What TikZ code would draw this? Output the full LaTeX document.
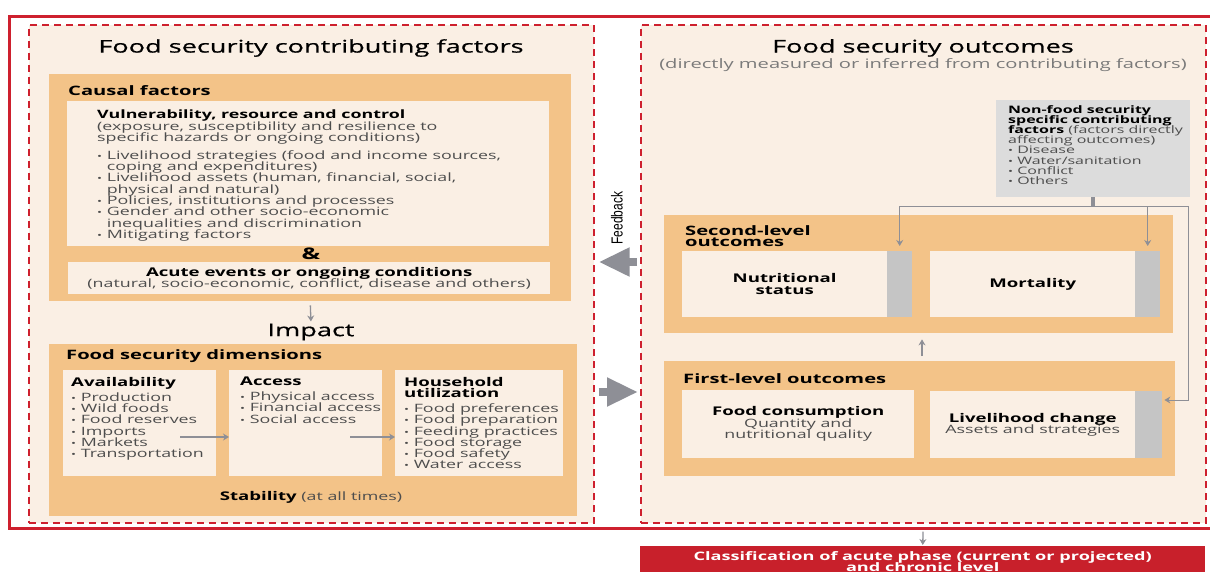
\documentclass[tikz,border=0pt]{standalone}
\usepackage{fontspec}
\setmainfont[FakeStretch=1.55]{Open Sans}
\newfontfamily\headfont[FakeStretch=1.55, FakeBold=0.6]{Open Sans}
\newfontfamily\narrowfont[FakeStretch=0.75]{Liberation Sans}
\usetikzlibrary{arrows.meta}

\definecolor{framered}{HTML}{CE202E}
\definecolor{zonebeige}{HTML}{FAEFE4}
\definecolor{panelorange}{HTML}{F3C388}
\definecolor{greybox}{HTML}{DCDCDC}
\definecolor{greybar}{HTML}{C5C5C5}
\definecolor{arrowgrey}{HTML}{8E8F96}
\definecolor{bodygrey}{HTML}{4D4D4D}
\definecolor{lightgrey}{HTML}{7A7A7A}
\definecolor{bannerred}{HTML}{C8202B}

\newcommand{\hd}[1]{\textcolor{black}{\bfseries #1}}
\newcommand{\bighd}[1]{{\fontsize{12}{12}\selectfont\hd{#1}}}
\newcommand{\bul}{{\fontsize{8.5}{8.5}\selectfont\textbullet}\ }
\newcommand{\bulgap}{\hphantom{\bul}}
\newcommand{\tightlines}{\lineskiplimit=-20pt\lineskip=0pt\relax}

\tikzset{frame/.style = {draw = framered,
                         line width = 3pt},
         zone/.style = {draw = framered,
                        fill = zonebeige,
                        line width = 1.6pt,
                        dash pattern = on 7pt off 5pt,
                        inner sep = 0pt,
                        anchor = north west},
         panel/.style = {fill = panelorange,
                         inner sep = 0pt,
                         anchor = north west},
         card/.style = {fill = zonebeige,
                        inner sep = 0pt,
                        anchor = north west},
         bar/.style = {fill = greybar,
                       inner sep = 0pt,
                       anchor = north west},
         nonfoodbox/.style = {fill = greybox,
                              inner sep = 0pt,
                              anchor = north west},
         heading/.style = {font = \headfont\fontsize{17.5}{18}\selectfont,
                           text = black,
                           inner sep = 0pt},
         subtitle/.style = {font = \fontsize{13}{14}\selectfont,
                            text = lightgrey,
                            inner sep = 0pt},
         panellabel/.style = {font = \bfseries\fontsize{13}{11.5}\selectfont\tightlines,
                              text = black,
                              inner sep = 0pt,
                              anchor = west},
         body/.style = {font = \fontsize{11.5}{11.3}\selectfont\tightlines,
                        text = bodygrey,
                        align = left,
                        inner sep = 0pt,
                        anchor = north west},
         small/.style = {font = \fontsize{10.3}{10.2}\selectfont\tightlines,
                         text = bodygrey,
                         align = left,
                         inner sep = 0pt,
                         anchor = north west},
         centred/.style = {font = \fontsize{11.5}{11.6}\selectfont\tightlines,
                           text = bodygrey,
                           align = center,
                           inner sep = 0pt},
         boxhead/.style = {font = \bfseries\fontsize{12}{12}\selectfont\tightlines,
                           text = black,
                           align = center,
                           inner sep = 0pt},
         banner/.style = {fill = bannerred,
                          text = white,
                          font = \bfseries\fontsize{11.7}{11}\selectfont\tightlines,
                          align = center,
                          inner sep = 0pt,
                          anchor = north west},
         flow/.style = {draw = arrowgrey,
                        line width = 1.3pt,
                        -{Stealth[length=6pt, width=7pt]}},
         feed/.style = {draw = arrowgrey,
                        line width = 1pt,
                        shorten >= 5pt,
                        -{Stealth[length=6pt, width=7pt]}},
         bigarrow/.style = {draw = arrowgrey,
                            line width = 8pt,
                            -{Triangle[length=31pt, width=27pt]}}}

\begin{document}
\begin{tikzpicture}[x=1pt, y=-1pt]
    \useasboundingbox (0,0) rectangle (1210,572);

    % frame and the two zones
    \draw[frame] (9,17) rectangle (1216,528);
    \node[zone, minimum width=565pt, minimum height=498pt] (factors) at (28,24) {};
    \node[zone, minimum width=565pt, minimum height=498pt] (outcomes) at (640,24) {};

    % contributing factors
    \node[heading] (factorstitle) at (311,48) {Food security contributing factors};
    \node[panel, minimum width=522pt, minimum height=227pt] (causal) at (49,74) {};
    \node[panellabel] (causallabel) at (68,91) {Causal factors};
    \node[card, minimum width=482pt, minimum height=145pt] (vuln) at (67,101) {};
    \node[body] (vulntext) at (97,110) {\hd{Vulnerability, resource and control}\\
        (exposure, susceptibility and resilience to\\
        specific hazards or ongoing conditions)\\[6.5pt]
        \bul Livelihood strategies (food and income sources,\\
        \bulgap coping and expenditures)\\
        \bul Livelihood assets (human, financial, social,\\
        \bulgap physical and natural)\\
        \bul Policies, institutions and processes\\
        \bul Gender and other socio-economic\\
        \bulgap inequalities and discrimination\\
        \bul Mitigating factors};
    \node[font=\bfseries\fontsize{16}{16}\selectfont, inner sep=0pt] (amp) at (311,254) {\&};
    \node[card, minimum width=482pt, minimum height=32pt] (acute) at (68,262) {};
    \node[centred] (acutetext) at (acute.center) {\bighd{Acute events or ongoing conditions}\\
        (natural, socio-economic, conflict, disease and others)};

    \node[heading] (impact) at (311,332) {Impact};
    \draw[flow, shorten <=4pt, shorten >=2pt] (causal.south) -- (impact.north);

    \node[panel, minimum width=528pt, minimum height=172pt] (dims) at (49,344) {};
    \node[panellabel] (dimslabel) at (66,356) {Food security dimensions};
    \node[card, minimum width=153pt, minimum height=106pt] (avail) at (63,370) {};
    \node[card, minimum width=153pt, minimum height=106pt] (access) at (229,370) {};
    \node[card, minimum width=168pt, minimum height=106pt] (util) at (395,370) {};
    \node[body] (availtext) at (71,377) {\bighd{Availability}\\[3.5pt]
        \bul Production\\ \bul Wild foods\\ \bul Food reserves\\
        \bul Imports\\ \bul Markets\\ \bul Transportation};
    \node[body] (accesstext) at (240,377) {\bighd{Access}\\[3.5pt]
        \bul Physical access\\ \bul Financial access\\ \bul Social access};
    \node[body] (utiltext) at (404,377) {\bighd{Household}\\ \bighd{utilization}\\[3.5pt]
        \bul Food preferences\\ \bul Food preparation\\ \bul Feeding practices\\
        \bul Food storage\\ \bul Food safety\\ \bul Water access};
    \coordinate (availout) at (180,437);
    \coordinate (accessout) at (350,437);
    \draw[flow] (availout) -- (availout -| access.west);
    \draw[flow] (accessout) -- (accessout -| util.west);
    \node[centred] (stability) at (311,497) {\bighd{Stability} (at all times)};

    % outcomes
    \node[heading] (outcomestitle) at (923,48) {Food security outcomes};
    \node[subtitle] (outcomessub) at (923,65) {(directly measured or inferred from contributing factors)};
    \node[nonfoodbox, minimum width=194pt, minimum height=97pt] (nonfood) at (996,100) {};
    \node[small] (nonfoodtext) at (1008,105) {\hd{Non-food security}\\
        \hd{specific contributing}\\
        \hd{factors} (factors directly\\
        affecting outcomes)\\
        \bul Disease\\ \bul Water/sanitation\\ \bul Conflict\\ \bul Others};

    \node[panel, minimum width=509pt, minimum height=118pt] (second) at (664,215) {};
    \node[panellabel, anchor=north west, align=left] (secondlabel) at (685,225) {Second-level\\outcomes};
    \node[card, minimum width=205pt, minimum height=66pt] (nutri) at (682,251) {};
    \node[bar, minimum width=25pt, minimum height=66pt] (nutribar) at (887,251) {};
    \node[card, minimum width=205pt, minimum height=66pt] (mort) at (930,251) {};
    \node[bar, minimum width=25pt, minimum height=66pt] (mortbar) at (1135,251) {};
    \node[boxhead] (nutritext) at (nutri.center) {Nutritional\\status};
    \node[boxhead] (morttext) at (mort.center) {Mortality};

    \node[panel, minimum width=511pt, minimum height=115pt] (first) at (664,361) {};
    \node[panellabel] (firstlabel) at (683,379) {First-level outcomes};
    \node[card, minimum width=232pt, minimum height=68pt] (foodcons) at (682,390) {};
    \node[card, minimum width=205pt, minimum height=67pt] (live) at (930,391) {};
    \node[bar, minimum width=27pt, minimum height=67pt] (livebar) at (1135,391) {};
    \node[centred] (foodconstext) at (foodcons.center) {\bighd{Food consumption}\\
        Quantity and\\nutritional quality};
    \node[centred] (livetext) at (live.center) {\bighd{Livelihood change}\\Assets and strategies};

    \draw[flow, shorten <=5pt, shorten >=6pt] (first.north -| 922,0) -- (second.south -| 922,0);

    % non-food factors feeding the outcomes
    \draw[draw=arrowgrey, line width=4pt] (nonfood.south) -- ++(0,9) coordinate (hub);
    \coordinate (turn) at (1188,400);
    \draw[feed] (hub) -| (nutribar.north);
    \draw[feed] (hub) -| (mortbar.north);
    \draw[feed, shorten >=2pt] (hub) -| (turn) -- (turn -| livebar.east);

    % feedback between the zones
    \draw[bigarrow, shorten <=3pt, shorten >=4pt] (outcomes.west |- 0,262) -- (factors.east |- 0,262);
    \draw[bigarrow, shorten <=4pt, shorten >=2pt] (factors.east |- 0,392) -- (outcomes.west |- 0,392);
    \node[font=\narrowfont\fontsize{16}{16}\selectfont, rotate=90, inner sep=0pt] (feedback) at (617,218) {Feedback};

    % classification
    \node[banner, minimum width=565pt, minimum height=30pt] (classify) at (640,546)
        {Classification of acute phase (current or projected)\\and chronic level};
    \draw[flow, shorten <=8pt, shorten >=1pt] (outcomes.south) -- (classify.north);
\end{tikzpicture}
\end{document}
